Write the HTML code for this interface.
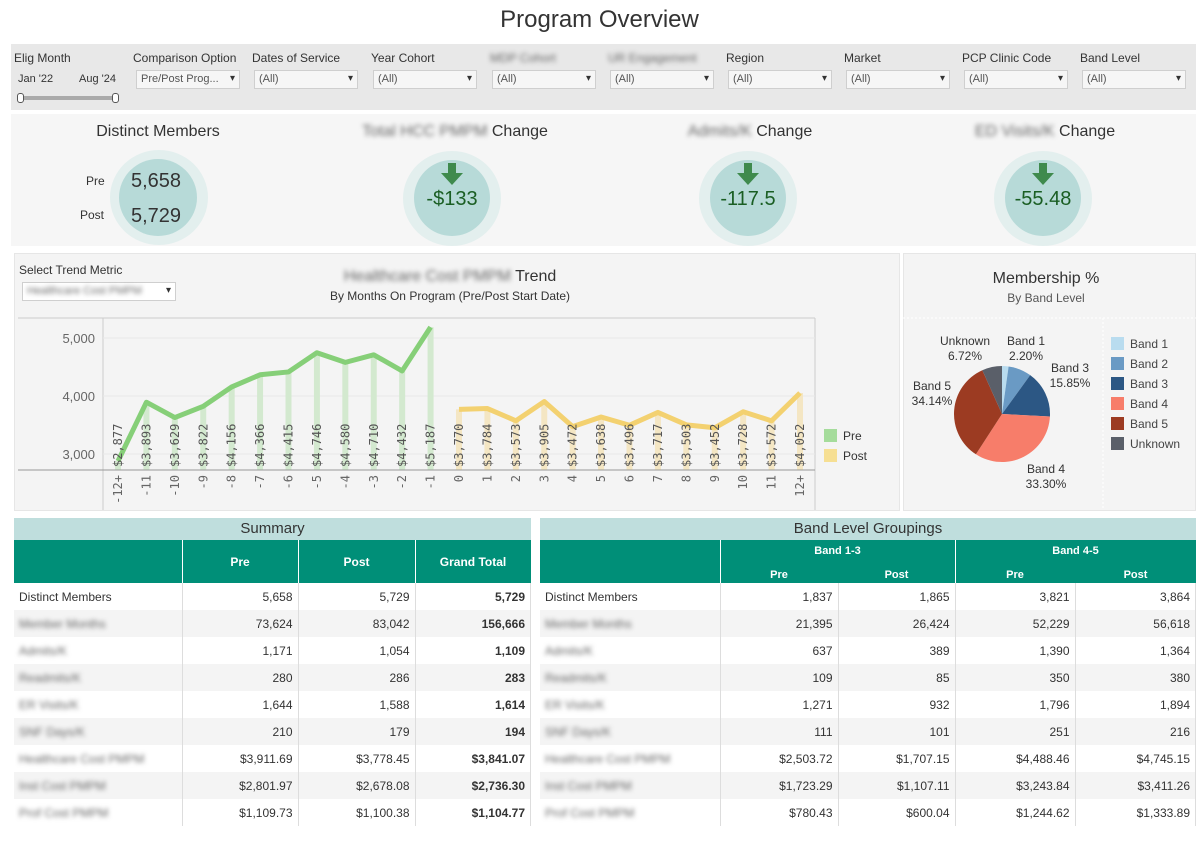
<!DOCTYPE html>
<html><head><meta charset="utf-8">
<style>
*{box-sizing:border-box;margin:0;padding:0}
body{width:1199px;height:845px;background:#fff;font-family:"Liberation Sans",sans-serif;position:relative;overflow:hidden;color:#333}
.abs{position:absolute}
.flab{font-size:12px;color:#333;top:51px}
.dd{position:absolute;top:70px;height:19px;background:#f6f6f6;border:1px solid #cfcfcf;font-size:11px;color:#555;padding:2px 4px}
.dd:after{content:"▾";position:absolute;right:4px;top:2px;font-size:10px;color:#333}
.blur{filter:blur(2.5px);color:#666}
.kt{font-size:16px;color:#333;top:123px;text-align:center}
.co{position:absolute;border-radius:50%;background:#e3efee}
.ci{position:absolute;border-radius:50%;background:#b7dad8}
.kv{position:absolute;font-size:20px;color:#1a5e23;text-align:center}
table{border-collapse:collapse;position:absolute;font-size:12px;table-layout:fixed}
td{height:27px;padding:0 5px;text-align:right;border-right:1px solid #ddd;color:#333}
td:first-child{text-align:left}
tr.a td{background:#f4f4f4}
.hd{position:absolute;background:#008f78;color:#fff;font-weight:bold;text-align:center;font-size:12px}
.vl{position:absolute;width:1px;background:#fff}
</style></head><body>
<div class="abs" style="left:0;width:1199px;top:6px;text-align:center;font-size:24px;color:#333">Program Overview</div>

<div class="abs" style="left:11px;top:44px;width:1185px;height:66px;background:#e8e8e8"></div>
<div class="abs flab" style="left:14px">Elig Month</div>
<div class="abs" style="left:18px;top:73px;font-size:11px">Jan '22</div>
<div class="abs" style="left:79px;top:73px;font-size:11px">Aug '24</div>
<div class="abs" style="left:20px;top:96px;width:98px;height:4px;background:#aaa"></div>
<div class="abs" style="left:17px;top:93px;width:7px;height:10px;border:1px solid #555;background:#fff;border-radius:3px"></div>
<div class="abs" style="left:112px;top:93px;width:7px;height:10px;border:1px solid #555;background:#fff;border-radius:3px"></div>

<div class="abs flab" style="left:133px">Comparison Option</div>
<div class="dd" style="left:136px;width:104px">Pre/Post Prog...</div>
<div class="abs flab" style="left:252px">Dates of Service</div>
<div class="dd" style="left:254px;width:104px">(All)</div>
<div class="abs flab" style="left:371px">Year Cohort</div>
<div class="dd" style="left:373px;width:104px">(All)</div>
<div class="abs flab blur" style="left:490px">MDP Cohort</div>
<div class="dd" style="left:492px;width:104px">(All)</div>
<div class="abs flab blur" style="left:608px">UR Engagement</div>
<div class="dd" style="left:610px;width:104px">(All)</div>
<div class="abs flab" style="left:726px">Region</div>
<div class="dd" style="left:728px;width:104px">(All)</div>
<div class="abs flab" style="left:844px">Market</div>
<div class="dd" style="left:846px;width:104px">(All)</div>
<div class="abs flab" style="left:962px">PCP Clinic Code</div>
<div class="dd" style="left:964px;width:104px">(All)</div>
<div class="abs flab" style="left:1080px">Band Level</div>
<div class="dd" style="left:1082px;width:104px">(All)</div>

<div class="abs" style="left:11px;top:114px;width:1185px;height:132px;background:#f6f6f6"></div>
<div class="abs kt" style="left:58px;width:200px">Distinct Members</div>
<div class="abs kt" style="left:340px;width:230px"><span class="blur">Total HCC PMPM</span> Change</div>
<div class="abs kt" style="left:660px;width:180px"><span class="blur">Admits/K</span> Change</div>
<div class="abs kt" style="left:950px;width:190px"><span class="blur">ED Visits/K</span> Change</div>

<div class="co" style="left:110px;top:150px;width:98px;height:95px"></div>
<div class="ci" style="left:119px;top:159px;width:78px;height:77px"></div>
<div class="abs" style="left:86px;top:174px;font-size:12px">Pre</div>
<div class="abs" style="left:80px;top:208px;font-size:12px">Post</div>
<div class="abs" style="left:131px;top:170px;font-size:20px;color:#333">5,658</div>
<div class="abs" style="left:131px;top:205px;font-size:20px;color:#333">5,729</div>

<div id="k2"></div>

<div class="abs" style="left:14px;top:253px;width:886px;height:258px;background:#f4f4f4;border:1px solid #e6e6e6"></div>
<div class="abs" style="left:19px;top:263px;font-size:12px;color:#333">Select Trend Metric</div>
<div class="dd" style="left:22px;top:282px;width:154px;background:#fff"><span class="blur">Healthcare Cost PMPM</span></div>
<div class="abs" style="left:250px;top:268px;width:400px;text-align:center;font-size:16px"><span class="blur">Healthcare Cost PMPM</span> Trend</div>
<div class="abs" style="left:250px;top:289px;width:400px;text-align:center;font-size:12px">By Months On Program (Pre/Post Start Date)</div>

<svg id="trend" class="abs" style="left:0;top:0" width="1199" height="845"></svg>

<div class="abs" style="left:903px;top:253px;width:293px;height:258px;background:#f4f4f4;border:1px solid #e6e6e6"></div>
<div class="abs" style="left:903px;top:270px;width:286px;text-align:center;font-size:16px">Membership %</div>
<div class="abs" style="left:903px;top:291px;width:286px;text-align:center;font-size:12px;color:#555">By Band Level</div>
<svg id="pie" class="abs" style="left:0;top:0" width="1199" height="845"></svg>

<div class="abs" style="left:14px;top:518px;width:517px;height:22px;background:#bfdedd;text-align:center;font-size:15px;line-height:22px">Summary</div>
<div class="hd" style="left:14px;top:540px;width:517px;height:43px"></div>
<div class="vl" style="left:182px;top:540px;height:43px"></div>
<div class="vl" style="left:298px;top:540px;height:43px"></div>
<div class="vl" style="left:415px;top:540px;height:43px"></div>
<div class="hd" style="left:182px;top:555px;width:116px;background:none">Pre</div>
<div class="hd" style="left:298px;top:555px;width:117px;background:none">Post</div>
<div class="hd" style="left:415px;top:555px;width:116px;background:none">Grand Total</div>
<table style="left:14px;top:583px;width:517px">
<colgroup><col style="width:168px"><col style="width:116px"><col style="width:117px"><col></colgroup>
<tr><td>Distinct Members</td><td>5,658</td><td>5,729</td><td><b>5,729</b></td></tr>
<tr class="a"><td><span class="blur">Member Months</span></td><td>73,624</td><td>83,042</td><td><b>156,666</b></td></tr>
<tr><td><span class="blur">Admits/K</span></td><td>1,171</td><td>1,054</td><td><b>1,109</b></td></tr>
<tr class="a"><td><span class="blur">Readmits/K</span></td><td>280</td><td>286</td><td><b>283</b></td></tr>
<tr><td><span class="blur">ER Visits/K</span></td><td>1,644</td><td>1,588</td><td><b>1,614</b></td></tr>
<tr class="a"><td><span class="blur">SNF Days/K</span></td><td>210</td><td>179</td><td><b>194</b></td></tr>
<tr><td><span class="blur">Healthcare Cost PMPM</span></td><td>$3,911.69</td><td>$3,778.45</td><td><b>$3,841.07</b></td></tr>
<tr class="a"><td><span class="blur">Inst Cost PMPM</span></td><td>$2,801.97</td><td>$2,678.08</td><td><b>$2,736.30</b></td></tr>
<tr><td><span class="blur">Prof Cost PMPM</span></td><td>$1,109.73</td><td>$1,100.38</td><td><b>$1,104.77</b></td></tr>
</table>

<div class="abs" style="left:540px;top:518px;width:656px;height:22px;background:#bfdedd;text-align:center;font-size:15px;line-height:22px">Band Level Groupings</div>
<div class="hd" style="left:540px;top:540px;width:656px;height:43px"></div>
<div class="vl" style="left:720px;top:540px;height:43px"></div>
<div class="vl" style="left:955px;top:540px;height:43px"></div>
<div class="hd" style="left:720px;top:545px;width:235px;background:none;font-size:11px">Band 1-3</div>
<div class="hd" style="left:955px;top:545px;width:241px;background:none;font-size:11px">Band 4-5</div>
<div class="hd" style="left:720px;top:569px;width:118px;background:none;font-size:11px">Pre</div>
<div class="hd" style="left:838px;top:569px;width:117px;background:none;font-size:11px">Post</div>
<div class="hd" style="left:955px;top:569px;width:120px;background:none;font-size:11px">Pre</div>
<div class="hd" style="left:1075px;top:569px;width:121px;background:none;font-size:11px">Post</div>
<table style="left:540px;top:583px;width:656px">
<colgroup><col style="width:180px"><col style="width:118px"><col style="width:117px"><col style="width:120px"><col></colgroup>
<tr><td>Distinct Members</td><td>1,837</td><td>1,865</td><td>3,821</td><td>3,864</td></tr>
<tr class="a"><td><span class="blur">Member Months</span></td><td>21,395</td><td>26,424</td><td>52,229</td><td>56,618</td></tr>
<tr><td><span class="blur">Admits/K</span></td><td>637</td><td>389</td><td>1,390</td><td>1,364</td></tr>
<tr class="a"><td><span class="blur">Readmits/K</span></td><td>109</td><td>85</td><td>350</td><td>380</td></tr>
<tr><td><span class="blur">ER Visits/K</span></td><td>1,271</td><td>932</td><td>1,796</td><td>1,894</td></tr>
<tr class="a"><td><span class="blur">SNF Days/K</span></td><td>111</td><td>101</td><td>251</td><td>216</td></tr>
<tr><td><span class="blur">Healthcare Cost PMPM</span></td><td>$2,503.72</td><td>$1,707.15</td><td>$4,488.46</td><td>$4,745.15</td></tr>
<tr class="a"><td><span class="blur">Inst Cost PMPM</span></td><td>$1,723.29</td><td>$1,107.11</td><td>$3,243.84</td><td>$3,411.26</td></tr>
<tr><td><span class="blur">Prof Cost PMPM</span></td><td>$780.43</td><td>$600.04</td><td>$1,244.62</td><td>$1,333.89</td></tr>
</table>

<script>
const categories=["-12+","-11","-10","-9","-8","-7","-6","-5","-4","-3","-2","-1","0","1","2","3","4","5","6","7","8","9","10","11","12+"];
const periods=["Pre","Pre","Pre","Pre","Pre","Pre","Pre","Pre","Pre","Pre","Pre","Pre","Post","Post","Post","Post","Post","Post","Post","Post","Post","Post","Post","Post","Post"];
const values=[2877,3893,3629,3822,4156,4366,4415,4746,4580,4710,4432,5187,3770,3784,3573,3905,3472,3638,3496,3717,3503,3452,3728,3572,4052];
const yTicks=[3000,4000,5000];
const pieLabels=["Band 1","Band 2","Band 3","Band 4","Band 5","Unknown"];
const pieValues=[2.20,7.79,15.85,33.30,34.14,6.72];
const pieColors=["#b9dcef","#6a9ac4","#2c5784","#f77d6a","#9c3b22","#5a5f69"];

const NS="http://www.w3.org/2000/svg";
function mk(p,t,a){const e=document.createElementNS(NS,t);for(const k in a)e.setAttribute(k,a[k]);p.appendChild(e);return e;}
const kd=[["cost-change",452,"-$133"],["admits-change",748,"-117.5"],["ed-change",1043,"-55.48"]];
const k2=document.getElementById('k2');
kd.forEach(d=>{
 const o=document.createElement('div');o.className='co';o.style.cssText=`left:${d[1]-49}px;top:151px;width:98px;height:95px`;
 
 
 k2.appendChild(o);
 const i=document.createElement('div');i.className='ci';i.style.cssText=`left:${d[1]-38}px;top:160px;width:76px;height:76px`;k2.appendChild(i);
 const a=document.createElement('div');a.className='abs';a.style.cssText=`left:${d[1]-11}px;top:163px;width:22px;height:22px`;
 a.innerHTML='<svg width="22" height="22"><rect x="7" y="0" width="8" height="11" fill="#3f8a4d"/><polygon points="0,10 22,10 11,22" fill="#3f8a4d"/></svg>';
 
 
 k2.appendChild(a);
 const v=document.createElement('div');v.className='kv';v.style.cssText+=`left:${d[1]-50}px;width:100px;top:188px`;v.textContent=d[2];
 
 
 k2.appendChild(v);
});

const svg=document.getElementById('trend');
const X0=118,DX=(800-118)/(categories.length-1),BASE=470;
const x=i=>X0+i*DX, y=v=>454-(v-3000)*0.058;
mk(svg,'rect',{x:18,y:318,width:797,height:192,fill:'#f4f4f4'});
mk(svg,'line',{x1:18,y1:318,x2:815,y2:318,stroke:'#ccc'});
mk(svg,'line',{x1:103,y1:318,x2:103,y2:510,stroke:'#ccc'});
mk(svg,'line',{x1:815,y1:318,x2:815,y2:510,stroke:'#ccc'});
yTicks.forEach(t=>{
 mk(svg,'line',{x1:103,x2:815,y1:y(t),y2:y(t),stroke:'#e8e8e8'});
 const tx=mk(svg,'text',{x:95,y:y(t)+5,'text-anchor':'end','font-size':13,fill:'#666'});tx.textContent=t.toLocaleString('en-US');
 
 
});
categories.forEach((c,i)=>{
 const pre=periods[i]==='Pre';
 const b=mk(svg,'rect',{x:x(i)-3,y:y(values[i]),width:6,height:BASE-y(values[i]),fill:pre?'#d3e9cf':'#f4e6c3'});
 
 
});
mk(svg,'line',{x1:18,y1:BASE,x2:815,y2:BASE,stroke:'#999'});
['Pre','Post'].forEach(p=>{
 const pts=[];values.forEach((v,i)=>{if(periods[i]===p)pts.push(x(i)+','+y(v));});
 const l=mk(svg,'polyline',{points:pts.join(' '),fill:'none',stroke:p==='Pre'?'#86cf78':'#f3d170','stroke-width':5,'stroke-linejoin':'round'});
 
 
});
categories.forEach((c,i)=>{
 const t=mk(svg,'text',{x:0,y:0,transform:`translate(${x(i)+4},467) rotate(-90)`,'font-size':12,fill:'#555','font-family':'DejaVu Sans Mono, monospace'});
 t.textContent='$'+values[i].toLocaleString('en-US');
 
 
 const a=mk(svg,'text',{x:0,y:0,transform:`translate(${x(i)+4},475) rotate(-90)`,'text-anchor':'end','font-size':12,fill:'#666','font-family':'DejaVu Sans Mono, monospace'});
 a.textContent=c;
 
 
});
[['Pre','#a5dc9b',429],['Post','#f6df93',449]].forEach(l=>{
 const r=mk(svg,'rect',{x:824,y:l[2],width:13,height:13,fill:l[1]});
 
 
 const t=mk(svg,'text',{x:843,y:l[2]+11,'font-size':12,fill:'#333'});t.textContent=l[0];
 
 
});

const ps=document.getElementById('pie');
mk(ps,'line',{x1:903,y1:318,x2:1196,y2:318,stroke:'#fff','stroke-dasharray':'2,2'});
mk(ps,'line',{x1:1103,y1:318,x2:1103,y2:510,stroke:'#fff','stroke-dasharray':'2,2'});
const CX=1002,CY=414,R=48;
const tot=pieValues.reduce((a,b)=>a+b,0);let ang=0;
const labPos=[[1026,345],null,[1070,372],[1046,473],[932,390],[965,345]];
pieValues.forEach((v,i)=>{
 const a0=ang,a1=ang+v/tot*2*Math.PI;ang=a1;
 const p=(a)=>[CX+R*Math.sin(a),CY-R*Math.cos(a)];
 const s=p(a0),e=p(a1);
 const sl=mk(ps,'path',{d:`M${CX},${CY} L${s[0]},${s[1]} A${R},${R} 0 ${a1-a0>Math.PI?1:0} 1 ${e[0]},${e[1]} Z`,fill:pieColors[i]});
 
 
 if(labPos[i]){
  const t=mk(ps,'text',{x:labPos[i][0],y:labPos[i][1],'text-anchor':'middle','font-size':12,fill:'#333'});
  t.textContent=pieLabels[i];
  const t2=mk(ps,'text',{x:labPos[i][0],y:labPos[i][1]+15,'text-anchor':'middle','font-size':12,fill:'#333'});
  t2.textContent=v.toFixed(2)+'%';
  
  
 }
 const r=mk(ps,'rect',{x:1111,y:337+i*20,width:13,height:13,fill:pieColors[i]});
 
 
 const lt=mk(ps,'text',{x:1130,y:348+i*20,'font-size':12,fill:'#444'});lt.textContent=pieLabels[i];
 
 
});
</script>
</body></html>
